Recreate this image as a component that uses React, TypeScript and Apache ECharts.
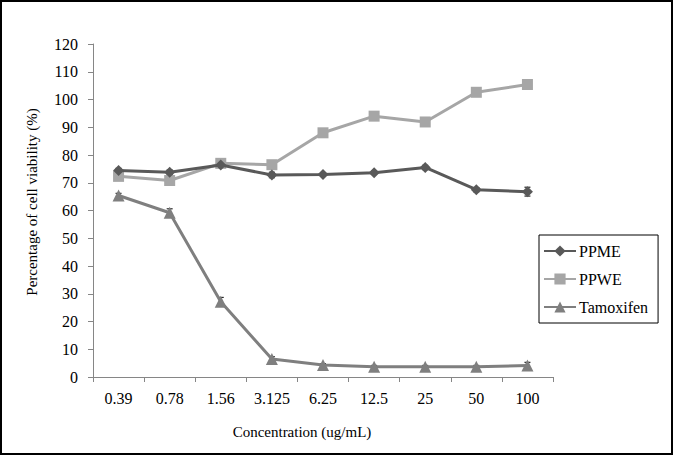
import React, { useEffect, useRef } from "react";
import * as echarts from "echarts";

const categories = ["0.39", "0.78", "1.56", "3.125", "6.25", "12.5", "25", "50", "100"];
const ppme = [74.4, 73.8, 76.4, 72.8, 73.0, 73.6, 75.5, 67.5, 66.8];
const ppwe = [72.3, 70.8, 77.0, 76.5, 88.0, 94.0, 91.9, 102.6, 105.4];
const tamoxifen = [65.4, 59.2, 27.1, 6.5, 4.3, 3.7, 3.7, 3.7, 4.1];
const ppmeErr = [0.8, 0.8, 0.8, 1.0, 0.6, 0.6, 0.8, 0.8, 1.6];
const ppweErr = [0.8, 0.8, 0.8, 0.8, 0.8, 0.8, 0.8, 0.8, 0.8];
const tamErr = [0.8, 1.4, 1.6, 0.8, 0.5, 0.5, 0.5, 0.5, 1.2];
const yTicks = { min: 0, max: 120, interval: 10 };

const FONT = "Liberation Serif";

function errSeries(name: string, vals: number[], errs: number[]) {
  return {
    type: "custom",
    name: name + "-err",
    z: 1,
    silent: true,
    data: vals.map((v, i) => [i, v - errs[i], v + errs[i]]),
    renderItem: (params: any, api: any) => {
      const x = api.coord([api.value(0), 0])[0];
      const lo = api.coord([api.value(0), api.value(1)])[1];
      const hi = api.coord([api.value(0), api.value(2)])[1];
      const st = { stroke: "#000", lineWidth: 1 };
      return {
        type: "group",
        children: [
          { type: "line", shape: { x1: x, y1: lo, x2: x, y2: hi }, style: st },
          { type: "line", shape: { x1: x - 3, y1: lo, x2: x + 3, y2: lo }, style: st },
          { type: "line", shape: { x1: x - 3, y1: hi, x2: x + 3, y2: hi }, style: st },
        ],
      };
    },
  };
}

export default function App() {
  const ref = useRef<HTMLDivElement>(null);
  useEffect(() => {
    document.body.style.margin = "0";
    const chart = echarts.init(ref.current!, null, { renderer: "svg" });
    const axisGray = "#868686";
    chart.setOption({
      animation: false,
      backgroundColor: "#fff",
      textStyle: { fontFamily: FONT },
      grid: { left: 93, right: 121, top: 44, bottom: 79 },
      xAxis: {
        type: "category",
        data: categories,
        boundaryGap: true,
        axisLine: { lineStyle: { color: axisGray, width: 1 } },
        axisTick: { show: true, length: 5, inside: false, lineStyle: { color: axisGray } },
        axisLabel: { color: "#000", fontFamily: FONT, fontSize: 16, margin: 13 },
        splitLine: { show: false },
      },
      yAxis: {
        type: "value",
        min: yTicks.min,
        max: yTicks.max,
        interval: yTicks.interval,
        axisLine: { show: true, lineStyle: { color: axisGray, width: 1 } },
        axisTick: { show: true, length: 5, inside: false, lineStyle: { color: axisGray } },
        axisLabel: { color: "#000", fontFamily: FONT, fontSize: 16, margin: 15 },
        splitLine: { show: false },
      },
      legend: {
        orient: "vertical",
        left: 539,
        top: 235,
        borderColor: "#000",
        borderWidth: 1,
        padding: [8, 10, 8, 4],
        itemWidth: 32,
        itemHeight: 14,
        itemGap: 12,
        textStyle: { color: "#000", fontFamily: FONT, fontSize: 16, padding: [0, 0, 0, -2] },
        data: ["PPME", "PPWE", "Tamoxifen"],
      },
      graphic: [
        {
          type: "rect",
          shape: { x: 1, y: 1, width: 671, height: 453 },
          style: { fill: "none", stroke: "#000", lineWidth: 2 },
          z: 100,
        },
        {
          type: "text",
          x: 32,
          y: 202,
          rotation: Math.PI / 2,
          style: {
            text: "Percentage of cell viability (%)",
            fontFamily: FONT,
            fontSize: 15,
            fill: "#000",
            align: "center",
            verticalAlign: "middle",
          },
        },
        {
          type: "text",
          x: 302,
          y: 432,
          style: {
            text: "Concentration (ug/mL)",
            fontFamily: FONT,
            fontSize: 15,
            fill: "#000",
            align: "center",
            verticalAlign: "middle",
          },
        },
      ],
      series: [
        errSeries("PPME", ppme, ppmeErr),
        errSeries("PPWE", ppwe, ppweErr),
        errSeries("Tamoxifen", tamoxifen, tamErr),
        {
          name: "PPME",
          type: "line",
          data: ppme,
          symbol: "diamond",
          symbolSize: 11,
          z: 3,
          lineStyle: { color: "#595959", width: 3 },
          itemStyle: { color: "#595959" },
        },
        {
          name: "PPWE",
          type: "line",
          data: ppwe,
          symbol: "rect",
          symbolSize: 11,
          z: 2,
          lineStyle: { color: "#a6a6a6", width: 3 },
          itemStyle: { color: "#a6a6a6" },
        },
        {
          name: "Tamoxifen",
          type: "line",
          data: tamoxifen,
          symbol: "triangle",
          symbolSize: 12,
          z: 2,
          lineStyle: { color: "#7f7f7f", width: 3 },
          itemStyle: { color: "#7f7f7f" },
        },
      ],
    });
    return () => chart.dispose();
  }, []);
  return <div ref={ref} style={{ width: 674, height: 456 }} />;
}
